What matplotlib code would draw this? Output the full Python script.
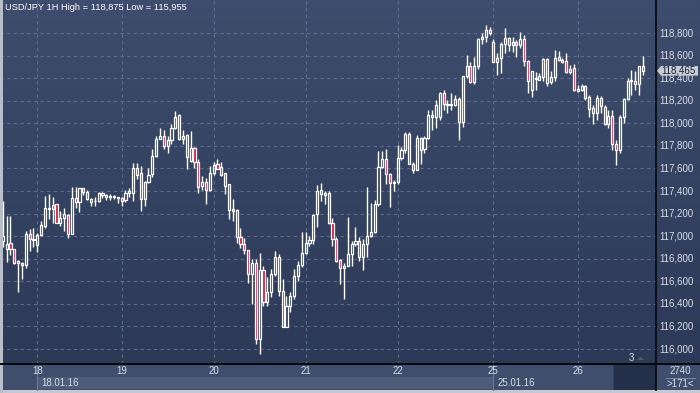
import matplotlib
matplotlib.use('Agg')
import matplotlib.pyplot as plt
import numpy as np
from matplotlib.patches import Rectangle, Polygon
from matplotlib.colors import LinearSegmentedColormap

# ---------------- data ----------------
opens = [116960, 116889, 116936, 116889, 116762, 116765, 116744, 117016, 116966, 116924,
         117013, 117090, 117240, 117240, 117282, 117119, 117164, 117190, 117022, 117341,
         117305, 117424, 117394, 117326, 117308, 117314, 117362, 117350, 117344, 117356,
         117338, 117338, 117320, 117385, 117385, 117604, 117563, 117332, 117483, 117548,
         117711, 117864, 117888, 117799, 117849, 117956, 118071, 117864, 117894, 117666,
         117784, 117660, 117445, 117483, 117412, 117557, 117637, 117613, 117557, 117459,
         117238, 117229, 116992, 116934, 116877, 116668, 116765, 116086, 116700, 116420,
         116505, 116665, 116812, 116517, 116192, 116378, 116467, 116650, 116745, 116851,
         116937, 116966, 117197, 117409, 117365, 117380, 117117, 116975, 116792, 116715,
         116739, 116842, 116931, 116960, 116812, 116931, 117005, 117040, 117285, 117610,
         117684, 117551, 117471, 117480, 117690, 117763, 117905, 117640, 117586, 117867,
         117770, 117870, 118060, 118059, 118059, 118265, 118168, 118160, 118162, 118212,
         118014, 118418, 118508, 118369, 118508, 118747, 118762, 118827, 118723, 118546,
         118575, 118700, 118753, 118694, 118723, 118694, 118744, 118555, 118299, 118393,
         118387, 118411, 118570, 118364, 118411, 118588, 118559, 118550, 118452, 118491,
         118290, 118293, 118334, 118234, 118092, 118092, 118225, 118142, 117997, 118068,
         117817, 117767, 118056, 118216, 118373, 118378, 118349, 118511]
highs = [117308, 117175, 117175, 116889, 116789, 116771, 117046, 117060, 117069, 117031,
         117131, 117356, 117373, 117350, 117285, 117220, 117252, 117196, 117438, 117433,
         117427, 117424, 117409, 117338, 117350, 117394, 117391, 117373, 117373, 117368,
         117350, 117344, 117409, 117424, 117651, 117651, 117622, 117489, 117601, 117770,
         117891, 117962, 117941, 117888, 117996, 118109, 118080, 117941, 117906, 117935,
         117790, 117687, 117533, 117518, 117622, 117660, 117687, 117660, 117557, 117459,
         117326, 117238, 117075, 116987, 116877, 116795, 116795, 116850, 116735, 116635,
         116709, 116872, 116842, 116620, 116473, 116502, 116709, 116783, 117034, 117034,
         117005, 117197, 117454, 117471, 117403, 117403, 117162, 116990, 116800, 116760,
         117167, 116960, 117078, 116990, 116975, 117433, 117290, 117318, 117758, 117758,
         117773, 117560, 117500, 117806, 117793, 117926, 117926, 117660, 117896, 117881,
         117890, 118118, 118118, 118206, 118280, 118295, 118206, 118265, 118251, 118236,
         118418, 118605, 118546, 118590, 118753, 118800, 118875, 118856, 118750, 118620,
         118720, 118841, 118768, 118768, 118740, 118812, 118780, 118560, 118461, 118452,
         118446, 118575, 118579, 118461, 118653, 118638, 118579, 118624, 118520, 118529,
         118340, 118350, 118343, 118254, 118165, 118254, 118240, 118165, 118121, 118121,
         117855, 118077, 118225, 118402, 118476, 118461, 118511, 118600]
lows = [116907, 116774, 116830, 116753, 116505, 116617, 116718, 116868, 116907, 116859,
        117001, 117075, 117149, 117119, 117119, 117090, 117046, 116986, 117022, 117246,
        117214, 117362, 117320, 117267, 117267, 117305, 117338, 117320, 117320, 117326,
        117297, 117267, 117302, 117350, 117312, 117510, 117223, 117267, 117474, 117527,
        117701, 117858, 117770, 117740, 117820, 117950, 117849, 117820, 117592, 117660,
        117601, 117385, 117412, 117282, 117400, 117542, 117592, 117533, 117371, 117151,
        117134, 116942, 116898, 116839, 116588, 116400, 116041, 115955, 116384, 116378,
        116458, 116650, 116473, 116192, 116192, 116325, 116443, 116606, 116730, 116842,
        116916, 116931, 117078, 117315, 117285, 117108, 116916, 116770, 116576, 116443,
        116739, 116739, 116916, 116783, 116703, 116812, 116990, 117030, 117270, 117600,
        117462, 117256, 117403, 117460, 117675, 117734, 117640, 117560, 117586, 117640,
        117740, 117860, 117940, 117955, 118029, 118118, 118088, 118120, 118150, 117850,
        117970, 118400, 118354, 118345, 118480, 118700, 118720, 118782, 118540, 118424,
        118443, 118620, 118640, 118630, 118590, 118670, 118505, 118265, 118234, 118299,
        118380, 118373, 118328, 118350, 118373, 118550, 118530, 118446, 118440, 118290,
        118280, 118290, 118210, 118056, 117997, 118033, 118092, 117988, 117960, 117767,
        117630, 117737, 118003, 118210, 118254, 118299, 118254, 118432]
closes = [117000, 116927, 116889, 116765, 116777, 116747, 117016, 116972, 116972, 117007,
          117096, 117252, 117252, 117273, 117119, 117164, 117193, 117022, 117341, 117305,
          117424, 117394, 117326, 117305, 117314, 117385, 117379, 117362, 117356, 117344,
          117344, 117314, 117385, 117397, 117604, 117539, 117332, 117483, 117542, 117711,
          117864, 117888, 117799, 117849, 117962, 118059, 117864, 117888, 117705, 117784,
          117660, 117439, 117483, 117412, 117557, 117628, 117592, 117542, 117445, 117229,
          117223, 116992, 116934, 116877, 116668, 116765, 116086, 116697, 116416, 116502,
          116665, 116812, 116517, 116192, 116378, 116467, 116650, 116745, 116851, 116937,
          116969, 117188, 117403, 117374, 117380, 117117, 116975, 116783, 116715, 116739,
          116842, 116931, 116960, 116812, 116931, 117002, 117040, 117285, 117610, 117684,
          117551, 117471, 117483, 117690, 117763, 117905, 117640, 117586, 117867, 117763,
          117870, 118073, 118073, 118165, 118271, 118168, 118160, 118168, 118212, 118014,
          118418, 118508, 118369, 118508, 118747, 118762, 118827, 118797, 118546, 118575,
          118700, 118753, 118694, 118723, 118694, 118744, 118555, 118377, 118461, 118402,
          118417, 118570, 118358, 118411, 118579, 118565, 118541, 118452, 118482, 118293,
          118305, 118334, 118225, 118127, 118136, 118225, 118151, 117997, 118068, 117817,
          117767, 118056, 118216, 118373, 118381, 118349, 118511, 118465]

day_ticks = [9, 31, 55, 79, 103, 128, 150]
day_labels = ['18', '19', '20', '21', '22', '25', '26']
week_starts = [9, 128]
week_labels = ['18.01.16', '25.01.16']
price_ticks = list(range(116000, 118801, 200))
title = 'USD/JPY 1H High = 118,875 Low = 115,955'
last_price = 118465
bars_label = '3'
info_top = '2740'
info_bottom = '>171<'

# ---------------- layout ----------------
W, H = 700, 393
PLOT_W, PLOT_H = 656, 364
X0, DX = 2.8, 3.833            # pixel of bar 0, pixels per bar
FONT = 'Liberation Sans'
FS = 7.0
TXT = '#d8dde7'
fig = plt.figure(figsize=(W / 100, H / 100), dpi=100)
fig.patch.set_facecolor('#3e4d6c')

# back layer in pixel coordinates
back = fig.add_axes([0, 0, 1, 1], zorder=0)
back.set_xlim(0, W)
back.set_ylim(H, 0)
back.axis('off')
grad = np.linspace(0, 1, 256).reshape(-1, 1)
cmap = LinearSegmentedColormap.from_list('bg', ['#3e4d6d', '#2c3957'])
back.imshow(grad, aspect='auto', cmap=cmap, extent=[0, W, PLOT_H, 0], zorder=0)

# main candle axes
ax = fig.add_axes([0, 1 - PLOT_H / H, PLOT_W / W, PLOT_H / H], zorder=1)
ax.set_facecolor('none')
ppx = 2800 / 316.0
ax.set_ylim(116000 - (PLOT_H - 349) * ppx, 116000 + 349 * ppx)
ax.set_xlim(-X0 / DX, (PLOT_W - X0) / DX)
for s in ax.spines.values():
    s.set_visible(False)
ax.set_xticks([])
ax.set_yticks([])

grid_c = '#5c6c8e'
for p in price_ticks:
    ax.axhline(p, color=grid_c, lw=0.8, ls=(0, (3, 3)), zorder=1)
for t in day_ticks:
    ax.axvline(t, color=grid_c, lw=0.8, ls=(0, (3, 3)), zorder=1)

up_c, down_c = 'none', '#dc143c'
bw = 0.56
for i, (o, h, l, c) in enumerate(zip(opens, highs, lows, closes)):
    lo_b, hi_b = min(o, c), max(o, c)
    ax.vlines(i, l, lo_b, color='white', lw=1.0, zorder=3)
    ax.vlines(i, hi_b, h, color='white', lw=1.0, zorder=3)
    ax.add_patch(Rectangle((i - bw / 2, lo_b), bw, max(hi_b - lo_b, 4),
                           facecolor=(down_c if c < o else up_c),
                           edgecolor='white', lw=0.9, zorder=4))

# front layer in pixel coordinates
front = fig.add_axes([0, 0, 1, 1], zorder=3)
front.set_xlim(0, W)
front.set_ylim(H, 0)
front.axis('off')
front.patch.set_alpha(0)

def bx(i):
    return X0 + DX * i

row1 = '#3f4e6d'
front.add_patch(Rectangle((0, PLOT_H), W, 13, facecolor=row1, edgecolor='none'))
front.add_patch(Rectangle((0, PLOT_H + 13), W, 13, facecolor=row1, edgecolor='none'))
front.add_patch(Rectangle((bx(week_starts[0]), PLOT_H + 13), bx(week_starts[1]) - bx(week_starts[0]), 12,
                          facecolor='#4d5c79', edgecolor='none'))
front.add_patch(Rectangle((613, PLOT_H), PLOT_W - 613, 26, facecolor='#243049', edgecolor='#34405a', lw=0.8))
for ws in week_starts:
    front.plot([bx(ws), bx(ws)], [PLOT_H, PLOT_H + 26], color='#6b7a96', lw=0.8)
for t, lab in zip(day_ticks, day_labels):
    front.text(bx(t), PLOT_H + 7.5, lab, ha='center', va='center', fontsize=FS,
               color=TXT, family=FONT)
for ws, lab in zip(week_starts, week_labels):
    front.text(bx(ws) + 4.5, PLOT_H + 19.5, lab, ha='left', va='center', fontsize=FS,
               color=TXT, family=FONT)

# light frame
front.add_patch(Rectangle((0, 389.5), W, 4, facecolor='#c4c8d0', edgecolor='none'))
front.add_patch(Rectangle((0, 0), 2.5, H, facecolor='#b9bfca', edgecolor='none'))

# black separators
front.plot([0, W], [PLOT_H - 0.5, PLOT_H - 0.5], color='#05070c', lw=1.4)
front.plot([PLOT_W, PLOT_W], [0, 389.5], color='#05070c', lw=1.2)

# right price labels
def py(p):
    return 349 - (p - 116000) / ppx

yy = py(last_price)
for p in price_ticks:
    front.text(659, py(p), f'{p:,}', ha='left', va='center', fontsize=FS,
               color=TXT, family=FONT)

# current price marker (drawn over the label beneath it, as in the original)
front.add_patch(Polygon([(657, yy), (661, yy - 4.8), (698, yy - 4.8), (698, yy + 4.8), (661, yy + 4.8)],
                        closed=True, facecolor='#c8ccd4', edgecolor='none', zorder=5))
front.text(661.5, yy, f'{last_price:,}', ha='left', va='center', fontsize=FS,
           color='#1a2133', family=FONT, zorder=6)

# info box
front.text(680, PLOT_H + 7, info_top, ha='center', va='center', fontsize=FS, color=TXT, family=FONT)
front.plot([666, 695], [PLOT_H + 13.5, PLOT_H + 13.5], color='#7c8aa4', lw=0.7)
front.text(680, PLOT_H + 19.8, info_bottom, ha='center', va='center', fontsize=FS, color=TXT, family=FONT)

# bar counter
front.text(631.5, 358, bars_label, ha='center', va='center', fontsize=FS, color=TXT, family=FONT)
front.add_patch(Polygon([(637, 360), (640.5, 356.5), (644, 360)], closed=True,
                        facecolor='#4a5878', edgecolor='none'))

# title
front.text(5, 7.5, title, ha='left', va='center', fontsize=6.7, color='white', family=FONT)

fig.savefig('out.png', dpi=100)
